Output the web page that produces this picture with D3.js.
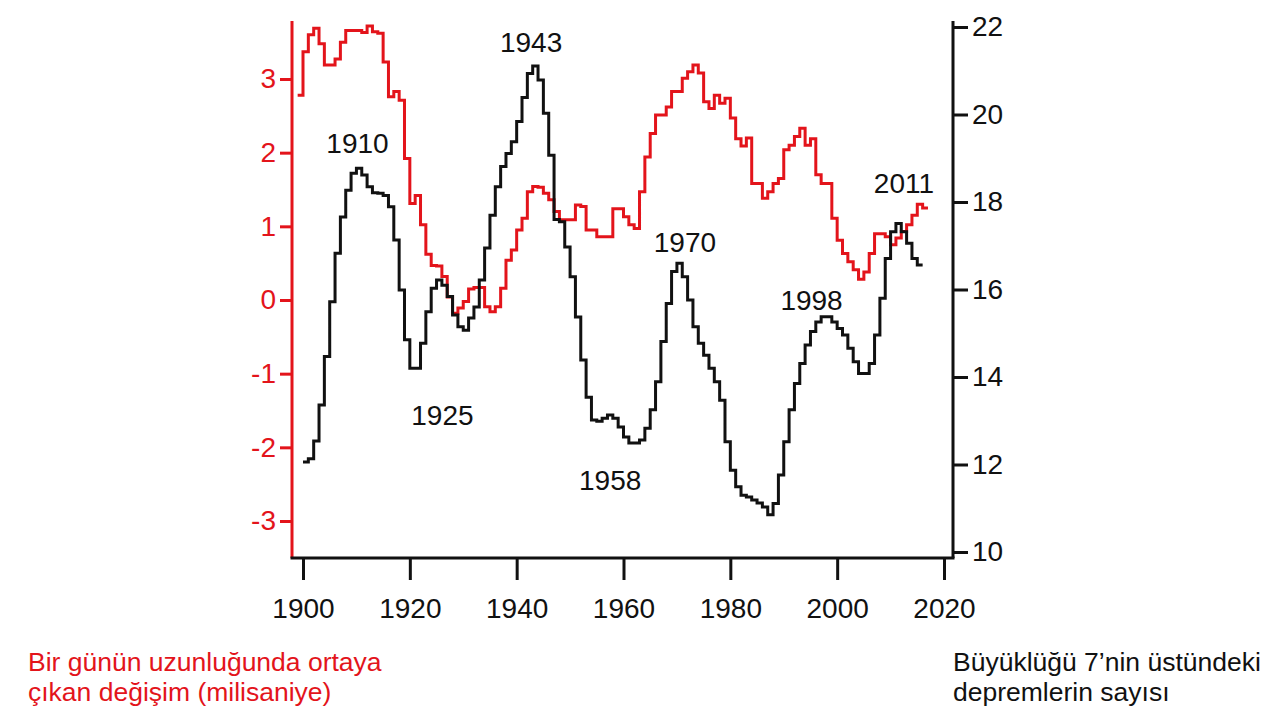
<!DOCTYPE html>
<meta charset="utf-8">
<style>
body { margin: 0; background: #fff; }
text { font-family: "Liberation Sans", Arial, sans-serif; }
</style>
<body>
<script src="https://d3js.org/d3.v7.min.js"></script>
<script>

const width = 1280,
    height = 721

const red = '#e3141b',
    ink = '#111'

// length of day change (ms), one value per year from 1899
const lodStart = 1899
const lod = [
    2.78, 3.37, 3.6, 3.69, 3.48, 3.19, 3.19, 3.27, 3.5, 3.66,
    3.66, 3.66, 3.63, 3.72, 3.64, 3.62, 3.23, 2.76, 2.83, 2.71,
    1.92, 1.31, 1.42, 1.02, 0.62, 0.47, 0.46, 0.32, 0.04, -0.18,
    -0.11, -0.02, 0.15, 0.17, 0.17, -0.09, -0.16, -0.09, 0.16, 0.54,
    0.68, 0.95, 1.11, 1.47, 1.54, 1.53, 1.45, 1.36, 1.2, 1.09,
    1.09, 1.09, 1.29, 1.27, 0.95, 0.95, 0.86, 0.86, 0.86, 1.24,
    1.24, 1.13, 1.02, 0.97, 1.47, 1.94, 2.26, 2.51, 2.51, 2.62,
    2.83, 2.83, 3.01, 3.1, 3.19, 3.08, 2.69, 2.6, 2.78, 2.67,
    2.74, 2.47, 2.19, 2.09, 2.2, 1.58, 1.58, 1.38, 1.47, 1.58,
    1.65, 2.04, 2.1, 2.22, 2.33, 2.1, 2.19, 1.7, 1.58, 1.58,
    1.11, 0.81, 0.63, 0.52, 0.41, 0.28, 0.38, 0.63, 0.9, 0.9,
    0.86, 0.75, 0.84, 0.93, 1.02, 1.15, 1.3, 1.25
]

// number of M>7 earthquakes, one value per year from 1900
const quakeStart = 1900
const quakes = [
    12.06, 12.13, 12.54, 13.36, 14.47, 15.72, 16.83, 17.66, 18.27, 18.66,
    18.77, 18.62, 18.35, 18.21, 18.2, 18.15, 17.89, 17.13, 15.99, 14.85,
    14.2, 14.2, 14.77, 15.49, 16.03, 16.22, 16.1, 15.84, 15.42, 15.15,
    15.07, 15.35, 15.6, 16.22, 16.95, 17.7, 18.35, 18.81, 19.11, 19.38,
    19.84, 20.39, 20.94, 21.11, 20.79, 20.03, 19.07, 17.6, 17.55, 16.97,
    16.29, 15.37, 14.39, 13.54, 13.02, 12.99, 13.06, 13.13, 13.06, 12.86,
    12.63, 12.49, 12.49, 12.56, 12.83, 13.25, 13.89, 14.81, 15.68, 16.41,
    16.6, 16.29, 15.76, 15.15, 14.77, 14.5, 14.2, 13.89, 13.47, 12.52,
    11.87, 11.49, 11.3, 11.26, 11.19, 11.12, 11.03, 10.85, 11.11, 11.76,
    12.52, 13.25, 13.85, 14.31, 14.73, 15.04, 15.26, 15.38, 15.38, 15.26,
    15.11, 14.96, 14.66, 14.35, 14.08, 14.08, 14.31, 14.96, 15.8, 16.71,
    17.32, 17.51, 17.32, 17.06, 16.71, 16.56
]

const xTicks = [1900, 1920, 1940, 1960, 1980, 2000, 2020]
const lodTicks = [-3, -2, -1, 0, 1, 2, 3]
const quakeTicks = [10, 12, 14, 16, 18, 20, 22]

// peak labels, placed in (year, earthquake count) units
const peakLabels = [
    { text: '1910', year: 1910.2, value: 19.11 },
    { text: '1925', year: 1926.1, value: 12.9 },
    { text: '1943', year: 1942.7, value: 21.44 },
    { text: '1958', year: 1957.5, value: 11.42 },
    { text: '1970', year: 1971.5, value: 16.86 },
    { text: '1998', year: 1995.2, value: 15.53 },
    { text: '2011', year: 2012.5, value: 18.2 }
]

const box = { left: 292, right: 953, top: 21, bottom: 558 }

var x = d3.scaleLinear().domain([1900, 2020]).range([303, 944])
var yL = d3.scaleLinear().domain([-3, 3]).range([521, 79])
var yR = d3.scaleLinear().domain([10, 22]).range([552, 27])

var svg = d3.select('body')
    .append('svg')
    .attr('width', width)
    .attr('height', height)

function toPoints(values, start) {
    var pts = values.map(function (v, i) { return [start + i, v] })
    pts.push([start + values.length, values[values.length - 1]])
    return pts
}

// series
svg.append('path')
    .datum(toPoints(lod, lodStart))
    .attr('fill', 'none')
    .attr('stroke', red)
    .attr('stroke-width', 3)
    .attr('d', d3.line()
        .curve(d3.curveStepAfter)
        .x(function (d) { return x(d[0]) })
        .y(function (d) { return yL(d[1]) }))

svg.append('path')
    .datum(toPoints(quakes, quakeStart))
    .attr('fill', 'none')
    .attr('stroke', ink)
    .attr('stroke-width', 3)
    .attr('d', d3.line()
        .curve(d3.curveStepAfter)
        .x(function (d) { return x(d[0]) })
        .y(function (d) { return yR(d[1]) }))

// axes
var fontSize = 28

var gx = svg.append('g')
    .attr('transform', 'translate(0,' + box.bottom + ')')
    .call(d3.axisBottom(x).tickValues(xTicks).tickSize(22).tickPadding(18).tickFormat(d3.format('d')))
gx.select('.domain').remove()

var gl = svg.append('g')
    .attr('transform', 'translate(' + box.left + ',0)')
    .call(d3.axisLeft(yL).tickValues(lodTicks).tickSize(12).tickPadding(4).tickFormat(function (d) { return String(d) }))
gl.select('.domain').remove()
gl.selectAll('line').attr('stroke', red)
gl.selectAll('text').attr('fill', red)

var gr = svg.append('g')
    .attr('transform', 'translate(' + box.right + ',0)')
    .call(d3.axisRight(yR).tickValues(quakeTicks).tickSize(15).tickPadding(4))
gr.select('.domain').remove()

svg.selectAll('.tick line').attr('stroke-width', 3)
svg.selectAll('.tick text')
    .style('font-size', fontSize + 'px')
    .style('font-family', '"Liberation Sans", Arial, sans-serif')
gx.selectAll('.tick line').attr('stroke', ink)
gr.selectAll('.tick line').attr('stroke', ink)
gx.selectAll('.tick text').attr('fill', ink)
gr.selectAll('.tick text').attr('fill', ink)

svg.append('line')
    .attr('x1', box.left).attr('x2', box.left)
    .attr('y1', box.top).attr('y2', box.bottom)
    .attr('stroke', red).attr('stroke-width', 3)

svg.append('line')
    .attr('x1', box.right).attr('x2', box.right)
    .attr('y1', box.top).attr('y2', box.bottom)
    .attr('stroke', ink).attr('stroke-width', 3)

svg.append('line')
    .attr('x1', box.left - 1.5).attr('x2', box.right + 1.5)
    .attr('y1', box.bottom).attr('y2', box.bottom)
    .attr('stroke', ink).attr('stroke-width', 3)

// peak labels
svg.selectAll('.peak')
    .data(peakLabels)
    .enter().append('text')
    .attr('class', 'peak')
    .attr('x', function (d) { return x(d.year) })
    .attr('y', function (d) { return yR(d.value) })
    .attr('text-anchor', 'middle')
    .style('font-size', fontSize + 'px')
    .attr('fill', ink)
    .text(function (d) { return d.text })

// captions
var capL = svg.append('text')
    .attr('fill', red)
    .style('font-size', '26.5px')
capL.append('tspan').attr('x', 28).attr('y', 671).text('Bir günün uzunluğunda ortaya')
capL.append('tspan').attr('x', 28).attr('y', 701).text('çıkan değişim (milisaniye)')

var capR = svg.append('text')
    .attr('fill', ink)
    .style('font-size', '26.5px')
capR.append('tspan').attr('x', 953).attr('y', 671).text('Büyüklüğü 7’nin üstündeki')
capR.append('tspan').attr('x', 953).attr('y', 701).text('depremlerin sayısı')

</script>
</body>
